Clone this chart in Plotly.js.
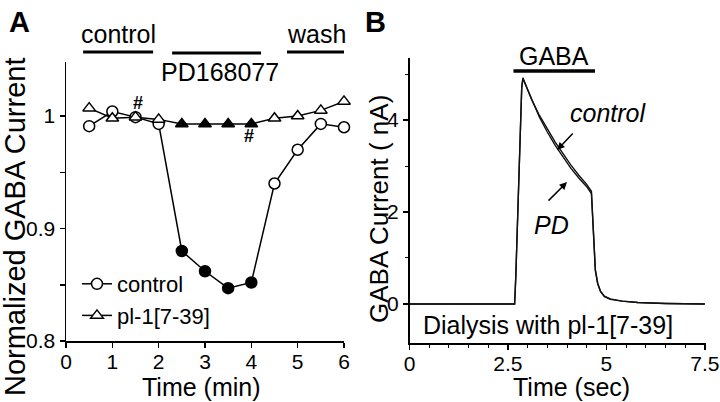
<!DOCTYPE html>
<html lang="en">
<head>
<meta charset="UTF-8">
<title>GABA current, PD168077</title>
<script src="https://cdn.plot.ly/plotly-3.0.1.min.js"></script>
<style>
  body { margin: 0; background: #fff; }
  #plot { width: 720px; height: 402px; }
</style>
</head>
<body>
<div id="plot"></div>
<script>
// Panel A: normalized GABA current vs time (min)
const timeMin = [0.5, 1, 1.5, 2, 2.5, 3, 3.5, 4, 4.5, 5, 5.5, 6];
const controlNorm = [0.991, 1.004, 0.999, 0.993, 0.880, 0.862, 0.847, 0.852, 0.940, 0.970, 0.993, 0.990];
const pl1Norm = [1.007, 0.998, 0.999, 0.997, 0.993, 0.993, 0.993, 0.993, 0.998, 1.000, 1.005, 1.013];
// filled symbols = points recorded in PD168077
const inDrug = [0, 0, 0, 0, 1, 1, 1, 1, 0, 0, 0, 0];

// Panel B: current trace (nA) vs time (sec), dialysis with pl-1[7-39]
const traceTime = [0, 1, 2, 2.5, 2.67, 2.7, 2.75, 2.8, 2.85, 2.88, 2.95, 3.1, 3.3, 3.5, 3.7, 3.9, 4.1, 4.3, 4.5, 4.62,
                   4.65, 4.68, 4.72, 4.78, 4.85, 4.95, 5.1, 5.4, 5.8, 6.5, 7.5];
const traceControl = [0, 0, 0, 0, 0, 0.6, 2.0, 3.5, 4.7, 4.92, 4.78, 4.45, 4.1, 3.8, 3.52, 3.27, 3.02, 2.8, 2.6, 2.45,
                      1.9, 1.2, 0.75, 0.45, 0.28, 0.17, 0.11, 0.06, 0.03, 0.01, 0];
const tracePD = [0, 0, 0, 0, 0, 0.6, 2.0, 3.5, 4.7, 4.9, 4.76, 4.42, 4.06, 3.74, 3.45, 3.2, 2.95, 2.74, 2.55, 2.4,
                 1.85, 1.15, 0.72, 0.43, 0.27, 0.16, 0.1, 0.06, 0.03, 0.01, 0];

const W = 720, H = 402;
const px = x => x / W;
const py = y => 1 - y / H;
const FONT = 'Liberation Sans, Arial, Helvetica, sans-serif';

const fills = inDrug.map(d => d ? 'black' : 'white');

const data = [
  {
    x: timeMin, y: controlNorm, name: 'control',
    xaxis: 'x', yaxis: 'y',
    mode: 'lines+markers',
    line: { color: 'black', width: 1.5 },
    marker: { symbol: 'circle', size: 11, color: fills, line: { color: 'black', width: 1.5 } },
    cliponaxis: false
  },
  {
    x: timeMin, y: pl1Norm, name: 'pl-1[7-39]',
    xaxis: 'x', yaxis: 'y',
    mode: 'lines+markers',
    line: { color: 'black', width: 1.5 },
    marker: { symbol: 'triangle-up', size: 11, color: fills, line: { color: 'black', width: 1.5 } },
    cliponaxis: false
  },
  {
    x: traceTime, y: traceControl, name: 'control',
    xaxis: 'x2', yaxis: 'y2', mode: 'lines', showlegend: false,
    line: { color: '#111', width: 1.4 }
  },
  {
    x: traceTime, y: tracePD, name: 'PD',
    xaxis: 'x2', yaxis: 'y2', mode: 'lines', showlegend: false,
    line: { color: '#111', width: 1.4 }
  }
];

const axisBase = {
  showline: true, linecolor: 'black', linewidth: 1.5,
  showgrid: false, zeroline: false,
  ticks: 'outside', ticklen: 5, tickwidth: 1.5, tickcolor: 'black',
  tickfont: { family: FONT, size: 21, color: 'black' },
  ticklabeloverflow: 'allow',
  fixedrange: true
};

// plain text label placed in pixel coordinates
function label(text, x, y, size, extra) {
  return Object.assign({
    text: text, xref: 'paper', yref: 'paper', x: px(x), y: py(y),
    xanchor: 'center', yanchor: 'middle', showarrow: false,
    font: { family: FONT, size: size, color: 'black' }
  }, extra || {});
}

const layout = {
  width: W, height: H,
  margin: { l: 0, r: 0, t: 0, b: 0 },
  paper_bgcolor: 'white', plot_bgcolor: 'white',
  font: { family: FONT, color: 'black' },
  showlegend: true,
  legend: {
    x: px(77), y: py(263), xanchor: 'left', yanchor: 'top',
    bgcolor: 'rgba(0,0,0,0)', borderwidth: 0,
    font: { family: FONT, size: 22, color: 'black' },
    itemwidth: 30
  },
  xaxis: Object.assign({}, axisBase, {
    domain: [px(66), px(344)], anchor: 'y', range: [0, 6],
    tickvals: [0, 1, 2, 3, 4, 5, 6],
    ticklabelstandoff: -4
  }),
  yaxis: Object.assign({}, axisBase, {
    domain: [py(341), py(62)], anchor: 'x', range: [0.8, 1.048],
    tickvals: [0.8, 0.85, 0.9, 0.95, 1],
    ticktext: ['0.8', '', '0.9', '', '1']
  }),
  xaxis2: Object.assign({}, axisBase, {
    domain: [px(409.5), px(706)], anchor: 'y2', range: [0, 7.53],
    tickvals: [0, 2.5, 5, 7.5],
    ticklabelstandoff: -4,
    minor: { dtick: 0.5, ticklen: 3, tickwidth: 1, tickcolor: 'black', ticks: 'outside' }
  }),
  yaxis2: Object.assign({}, axisBase, {
    domain: [py(343), py(58)], anchor: 'x2', range: [-0.85, 5.35],
    tickvals: [0, 2, 4],
    minor: { tickvals: [1, 3, 5], ticklen: 3, tickwidth: 1, tickcolor: 'black', ticks: 'outside' }
  }),
  shapes: [
    // application bars, panel A
    { type: 'line', xref: 'x', yref: 'paper', x0: 0.37, x1: 1.88, y0: py(52), y1: py(52), line: { color: 'black', width: 3 } },
    { type: 'line', xref: 'x', yref: 'paper', x0: 2.29, x1: 4.21, y0: py(53), y1: py(53), line: { color: 'black', width: 3 } },
    { type: 'line', xref: 'x', yref: 'paper', x0: 4.77, x1: 6.13, y0: py(52), y1: py(52), line: { color: 'black', width: 3 } },
    // GABA bar, panel B
    { type: 'line', xref: 'x2', yref: 'paper', x0: 2.64, x1: 4.71, y0: py(71), y1: py(71), line: { color: 'black', width: 3.5 } }
  ],
  annotations: [
    label('<b>A</b>', 19, 22, 29),
    label('<b>B</b>', 375, 22, 29),
    label('Normalized GABA Current', 15, 227, 29, { textangle: -90 }),
    label('GABA Current ( nA)', 379, 209, 26, { textangle: -90 }),
    label('Time (min)', 201, 387, 25),
    label('Time (sec)', 571, 387, 25),
    label('control', 118, 34, 25),
    label('PD168077', 220, 72, 25),
    label('wash', 316, 34, 25),
    label('GABA', 554, 56, 25),
    label('Dialysis with pl-1[7-39]', 548, 325, 25),
    { text: '<b>#</b>', xref: 'x', yref: 'y', x: 1.55, y: 1.0116, showarrow: false, font: { family: FONT, size: 18 } },
    { text: '<b>#</b>', xref: 'x', yref: 'y', x: 3.95, y: 0.982, showarrow: false, font: { family: FONT, size: 18 } },
    { text: '<i>control</i>', xref: 'x2', yref: 'y2', x: 5.05, y: 4.15, showarrow: false, font: { family: FONT, size: 25 } },
    { text: '<i>PD</i>', xref: 'x2', yref: 'y2', x: 3.6, y: 1.72, showarrow: false, font: { family: FONT, size: 25 } },
    { text: '', xref: 'x2', yref: 'y2', x: 3.75, y: 3.35, ax: 17, ay: -18, showarrow: true,
      arrowhead: 2, arrowsize: 1, arrowwidth: 1.5, arrowcolor: 'black' },
    { text: '', xref: 'x2', yref: 'y2', x: 4.0, y: 2.65, ax: -20, ay: 20, showarrow: true,
      arrowhead: 2, arrowsize: 1, arrowwidth: 1.5, arrowcolor: 'black' }
  ]
};

Plotly.newPlot('plot', data, layout, { displayModeBar: false, staticPlot: true });
</script>
</body>
</html>
